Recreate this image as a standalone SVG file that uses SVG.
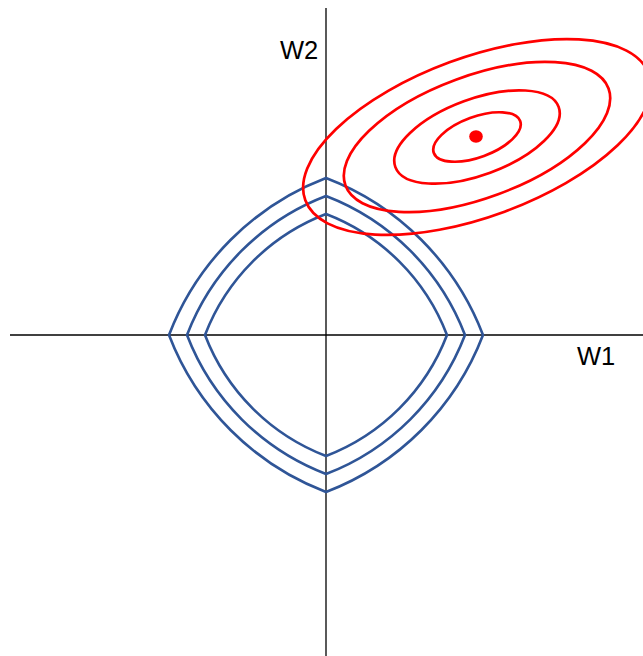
<svg xmlns="http://www.w3.org/2000/svg" width="643" height="656" viewBox="0 0 643 656">
<style>
.axis{stroke:#000;stroke-width:1.3;fill:none}
.blue{stroke:#2F5597;stroke-width:2.6;fill:none;stroke-linejoin:miter}
.red{stroke:#FF0000;stroke-width:2.7;fill:none}
.lbl{font-family:"Liberation Sans",Arial,sans-serif;font-size:25.5px;fill:#000}
</style>
<rect width="643" height="656" fill="#fff"/>
<g id="axes">
<line class="axis" x1="326" y1="8" x2="326" y2="656"/>
<line class="axis" x1="10" y1="335" x2="643" y2="335"/>
</g>
<g id="l1-contours">
<path class="blue" d="M169,335 A272,272 0 0 1 326,178 A272,272 0 0 1 483,335 A272,272 0 0 1 326,492 A272,272 0 0 1 169,335 Z"/>
<path class="blue" d="M187,335 A241,241 0 0 1 326,196 A241,241 0 0 1 465,335 A241,241 0 0 1 326,474 A241,241 0 0 1 187,335 Z"/>
<path class="blue" d="M205,335 A210,210 0 0 1 326,214 A210,210 0 0 1 447,335 A210,210 0 0 1 326,456 A210,210 0 0 1 205,335 Z"/>
</g>
<g id="loss-contours" transform="translate(477,137) rotate(-20.25)">
<ellipse class="red" cx="0" cy="0" rx="46" ry="20.2"/>
<ellipse class="red" cx="0" cy="0" rx="87" ry="38"/>
<ellipse class="red" cx="0" cy="0" rx="140.2" ry="61"/>
<ellipse class="red" cx="0" cy="0" rx="183" ry="79.6"/>
</g>
<g id="optimum">
<ellipse cx="476" cy="136.5" rx="6.8" ry="6.2" fill="#FF0000"/>
</g>
<g id="labels">
<text class="lbl" x="280" y="58.5">W2</text>
<text class="lbl" x="577" y="364.5">W1</text>
</g>
</svg>
